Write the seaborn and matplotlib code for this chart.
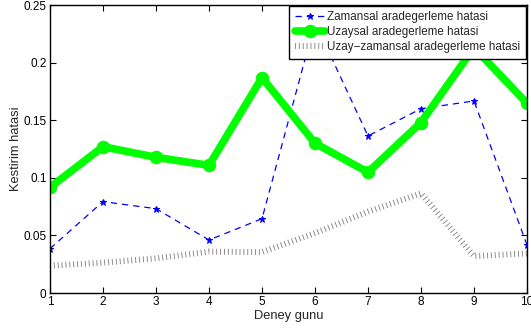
import matplotlib
matplotlib.use("Agg")
import matplotlib.pyplot as plt
import seaborn as sns
import pandas as pd
import numpy as np

days = [1, 2, 3, 4, 5, 6, 7, 8, 9, 10]
zamansal = [0.0385, 0.0793, 0.0732, 0.046, 0.0645, 0.235, 0.1363, 0.160, 0.1667, 0.0417]
uzaysal = [0.0917, 0.127, 0.1178, 0.1108, 0.187, 0.130, 0.1048, 0.148, 0.213, 0.1647]
uzay_zamansal = [0.0237, 0.0263, 0.0301, 0.0359, 0.0355, 0.052, 0.0706, 0.0865, 0.032, 0.0344]
labels = ["Zamansal aradegerleme hatasi", "Uzaysal aradegerleme hatasi",
          "Uzay\u2212zamansal aradegerleme hatasi"]
yticks = [0, 0.05, 0.1, 0.15, 0.2, 0.25]
ytick_labels = ["0", "0.05", "0.1", "0.15", "0.2", "0.25"]

sns.set_style("ticks")
plt.rcParams['font.family'] = ['Liberation Sans', 'DejaVu Sans']

fig = plt.figure(figsize=(5.31, 3.29), dpi=100)
ax = fig.add_axes([50/531, 36/329, 477/531, 288/329])

df = pd.DataFrame({"day": days, "z": zamansal, "u": uzaysal, "uz": uzay_zamansal})

sns.lineplot(data=df, x="day", y="z", ax=ax, color="#0000ff", lw=0.9,
             linestyle=(0, (5, 4)), marker="*", markersize=5,
             markeredgecolor="#0000ff", label=labels[0])
sns.lineplot(data=df, x="day", y="u", ax=ax, color="#00ff00", lw=5.5,
             marker="o", markersize=9, markeredgecolor="#00ff00", label=labels[1])
sns.lineplot(data=df, x="day", y="uz", ax=ax, color="#858585", lw=4.3,
             linestyle=(0, (0.15, 0.5)), dash_capstyle="butt", label=labels[2])

ax.set_xlim(1, 10)
ax.set_ylim(0, 0.25)
ax.set_xticks(days)
ax.set_xticklabels([str(d) for d in days])
ax.set_yticks(yticks)
ax.set_yticklabels(ytick_labels)
ax.tick_params(direction="in", top=True, right=True, labelsize=8.5, length=4,
               width=0.8, colors="black", pad=2.5)
for s in ax.spines.values():
    s.set_visible(True)
    s.set_color("black")
    s.set_linewidth(1.0)
ax.set_xlabel("Deney gunu", fontsize=9.3, labelpad=1)
ax.set_ylabel("Kestirim hatasi", fontsize=9.3, labelpad=1)

leg = ax.legend(loc="upper right", fontsize=8.4, frameon=True, fancybox=False,
                edgecolor="black", framealpha=1, borderaxespad=0.05,
                handlelength=2.6, handletextpad=0.2, borderpad=0.5,
                labelspacing=0.25)
leg.get_frame().set_linewidth(1.0)

fig.savefig("out.png", dpi=100)
